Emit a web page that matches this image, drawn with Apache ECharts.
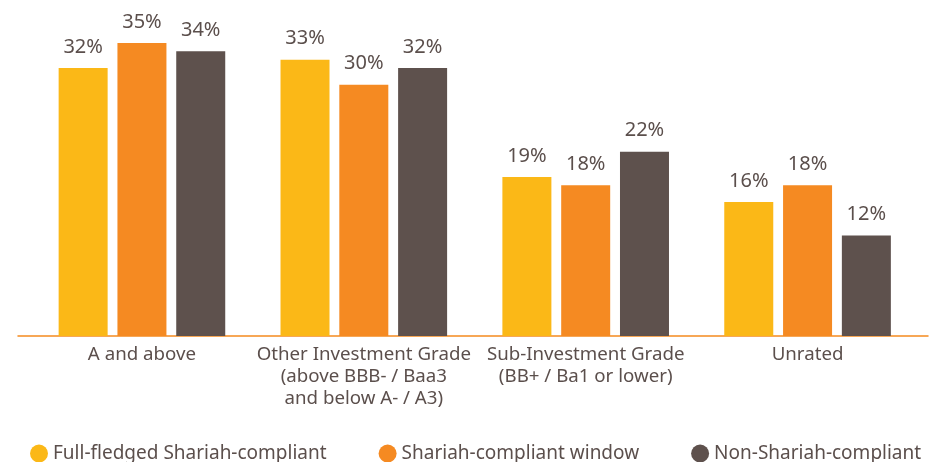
<!DOCTYPE html>
<html>
<head>
<meta charset="utf-8">
<script src="https://cdn.jsdelivr.net/npm/echarts@6/dist/echarts.min.js"></script>
<style>
  html, body { margin: 0; padding: 0; background: #fff; }
  #chart { width: 939px; height: 462px; }
</style>
</head>
<body>
<div id="chart"></div>
<script>
// categories and values (percent)
const categories = [
  "A and above",
  "Other Investment Grade\n(above BBB- / Baa3\nand below A- / A3)",
  "Sub-Investment Grade\n(BB+ / Ba1 or lower)",
  "Unrated"
];
const fullFledged = [32, 33, 19, 16];
const windowSeries = [35, 30, 18, 18];
const nonShariah = [34, 32, 22, 12];
const seriesNames = ["Full-fledged Shariah-compliant", "Shariah-compliant window", "Non-Shariah-compliant"];

const textColor = "#5b4f4c";
const font = "Noto Sans";

const chart = echarts.init(document.getElementById("chart"));

function barSeries(name, data, color) {
  return {
    name: name,
    type: "bar",
    xAxisIndex: 0,
    yAxisIndex: 0,
    data: data,
    barWidth: 49,
    barGap: "20%",
    itemStyle: { color: color },
    label: {
      show: true,
      position: "top",
      distance: 11,
      formatter: "{c}%",
      color: textColor,
      fontFamily: font,
      fontSize: 20
    }
  };
}

chart.setOption({
  animation: false,
  textStyle: { fontFamily: font },
  legend: {
    left: 25,
    top: 439,
    icon: "circle",
    itemWidth: 18,
    itemHeight: 18,
    itemGap: 52,
    textStyle: { color: textColor, fontSize: 19, fontFamily: font },
    data: seriesNames
  },
  grid: [
    { left: 31, right: 20.5, top: 1, bottom: 126 },
    // only used for the wider baseline
    { left: 18, right: 11, top: 1, bottom: 126 }
  ],
  xAxis: [
    {
      type: "category",
      gridIndex: 0,
      data: categories,
      axisLine: { show: false },
      axisTick: { show: false },
      axisLabel: {
        color: textColor,
        fontSize: 18.7,
        lineHeight: 22,
        margin: 8,
        interval: 0,
        fontFamily: font
      }
    },
    {
      type: "value",
      gridIndex: 1,
      min: 0,
      max: 1,
      axisLine: { show: true, onZero: false, lineStyle: { color: "#f58a1f", width: 1.5 } },
      axisTick: { show: false },
      axisLabel: { show: false },
      splitLine: { show: false }
    }
  ],
  yAxis: [
    { type: "value", gridIndex: 0, min: 0, max: 40, show: false },
    { type: "value", gridIndex: 1, min: 0, max: 1, show: false }
  ],
  series: [
    barSeries(seriesNames[0], fullFledged, "#fbb817"),
    barSeries(seriesNames[1], windowSeries, "#f58a22"),
    barSeries(seriesNames[2], nonShariah, "#5e514d")
  ]
});
</script>
</body>
</html>
